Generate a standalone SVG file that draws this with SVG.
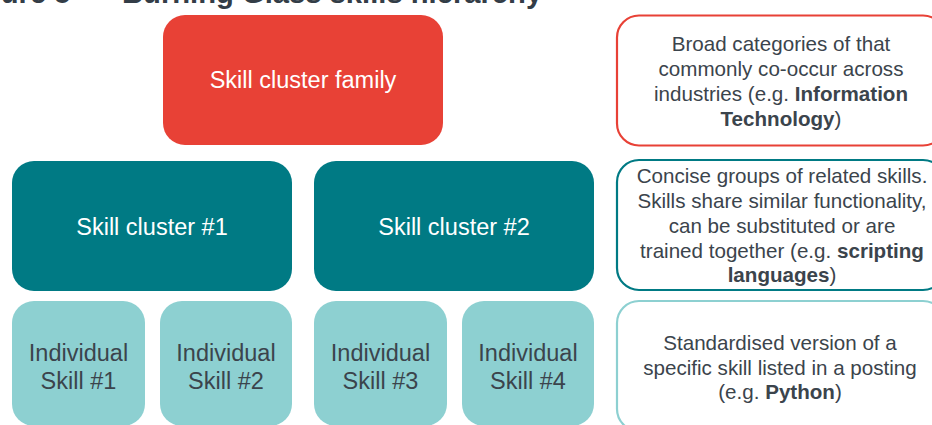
<svg xmlns="http://www.w3.org/2000/svg" width="932" height="425" viewBox="0 0 932 425">
  <style>
    text { font-family: "Liberation Sans", Arial, sans-serif; }
    .title { font-size: 29.2px; font-weight: bold; fill: #333d47; }
    .lbl-light { font-size: 23.5px; fill: #ffffff; text-anchor: middle; }
    .lbl-dark { font-size: 23.5px; fill: #3b444c; text-anchor: middle; }
    .desc { font-size: 20.6px; fill: #3b444c; text-anchor: middle; }
    .desc .b { font-weight: bold; }
    .family { fill: #e84136; }
    .cluster { fill: #007a84; }
    .skill { fill: #8dd0d1; }
    .note { fill: #ffffff; stroke-width: 2.2; }
  </style>

  <rect width="932" height="425" fill="#ffffff"/>

  <!-- heading, clipped by the top edge -->
  <text class="title" x="-43" y="3">Figure 5</text>
  <text class="title" x="122" y="3">Burning Glass skills hierarchy</text>

  <!-- hierarchy levels -->
  <g id="family">
    <rect class="family" x="163" y="15" width="280" height="130" rx="22"/>
    <text class="lbl-light" x="303" y="88">Skill cluster family</text>
  </g>

  <g id="cluster1">
    <rect class="cluster" x="12" y="161" width="280" height="130" rx="22"/>
    <text class="lbl-light" x="152" y="235">Skill cluster #1</text>
  </g>
  <g id="cluster2">
    <rect class="cluster" x="314" y="161" width="280" height="130" rx="22"/>
    <text class="lbl-light" x="454" y="235">Skill cluster #2</text>
  </g>

  <g id="skill1">
    <rect class="skill" x="12" y="301" width="133" height="125" rx="22"/>
    <text class="lbl-dark" x="78.5" y="361">Individual</text>
    <text class="lbl-dark" x="78.5" y="389">Skill #1</text>
  </g>
  <g id="skill2">
    <rect class="skill" x="160" y="301" width="132" height="125" rx="22"/>
    <text class="lbl-dark" x="226" y="361">Individual</text>
    <text class="lbl-dark" x="226" y="389">Skill #2</text>
  </g>
  <g id="skill3">
    <rect class="skill" x="314" y="301" width="133" height="125" rx="22"/>
    <text class="lbl-dark" x="380.5" y="361">Individual</text>
    <text class="lbl-dark" x="380.5" y="389">Skill #3</text>
  </g>
  <g id="skill4">
    <rect class="skill" x="462" y="301" width="132" height="125" rx="22"/>
    <text class="lbl-dark" x="528" y="361">Individual</text>
    <text class="lbl-dark" x="528" y="389">Skill #4</text>
  </g>

  <!-- descriptions for each level -->
  <g id="note-family">
    <rect class="note" x="617" y="15.5" width="328" height="130" rx="22" stroke="#e84136"/>
    <text class="desc" x="781" y="51">Broad categories of that</text>
    <text class="desc" x="781" y="76">commonly co-occur across</text>
    <text class="desc" x="781" y="101">industries (e.g. <tspan class="b">Information</tspan></text>
    <text class="desc" x="781" y="126"><tspan class="b">Technology</tspan>)</text>
  </g>

  <g id="note-cluster">
    <rect class="note" x="617" y="160" width="328" height="130" rx="22" stroke="#007a84"/>
    <text class="desc" x="782" y="183">Concise groups of related skills.</text>
    <text class="desc" x="782" y="208">Skills share similar functionality,</text>
    <text class="desc" x="782" y="233">can be substituted or are</text>
    <text class="desc" x="782" y="258">trained together (e.g. <tspan class="b">scripting</tspan></text>
    <text class="desc" x="782" y="282"><tspan class="b">languages</tspan>)</text>
  </g>

  <g id="note-skill">
    <rect class="note" x="617" y="301" width="328" height="130" rx="22" stroke="#8dd0d1"/>
    <text class="desc" x="780" y="350">Standardised version of a</text>
    <text class="desc" x="780" y="375">specific skill listed in a posting</text>
    <text class="desc" x="780" y="399">(e.g. <tspan class="b">Python</tspan>)</text>
  </g>
</svg>
